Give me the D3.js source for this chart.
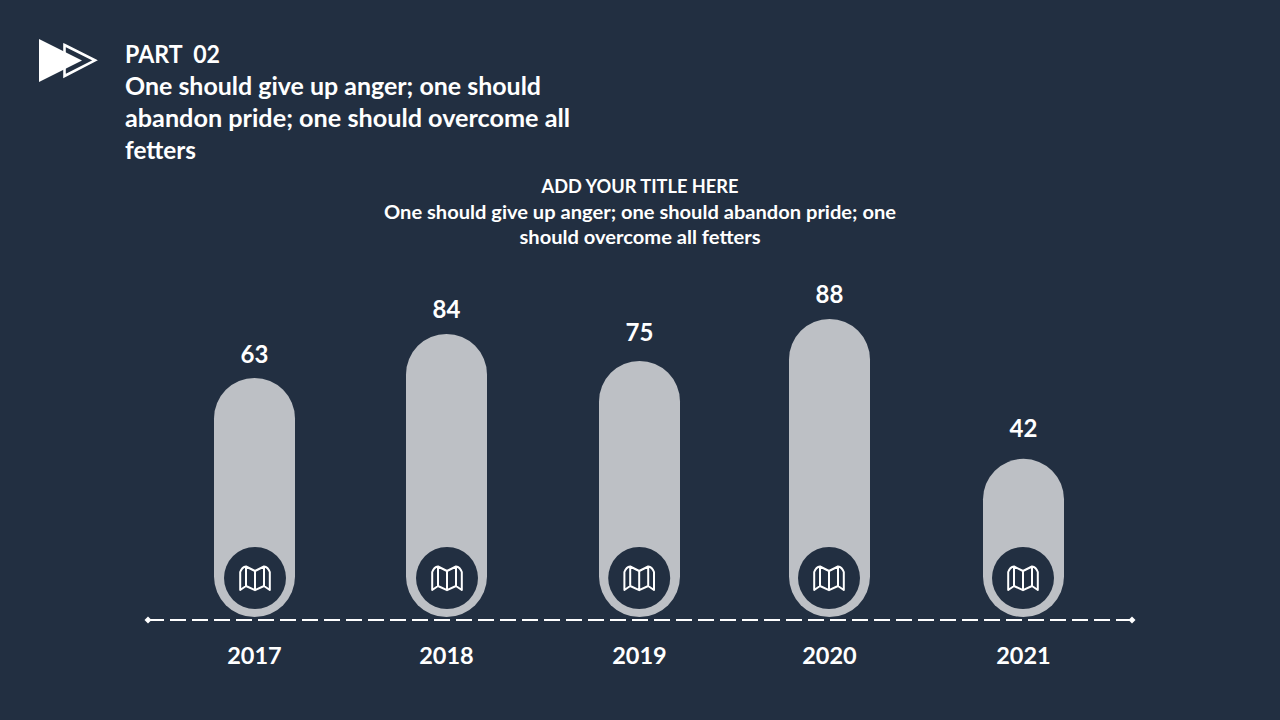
<!DOCTYPE html>
<html><head><meta charset="utf-8">
<script src="https://cdn.jsdelivr.net/npm/d3@7/dist/d3.min.js"></script>
<style>html,body{margin:0;padding:0;background:#222F41}svg{display:block}text{font-family:Lato,"Open Sans",sans-serif;font-weight:700;fill:#fff}</style>
</head><body><svg id="c" width="1280" height="720"></svg>
<script>
const years=["2017","2018","2019","2020","2021"];
const valueLabels=["63","84","75","88","42"];
const barHeights=[70.6,83.6,75.6,88,46.7];
const labelLevels=[75.0,88.3,81.5,92.7,53.2];
const headingLines=["PART  02","One should give up anger; one should","abandon pride; one should overcome all","fetters"];
const subLines=["ADD YOUR TITLE HERE","One should give up anger; one should abandon pride; one","should overcome all fetters"];
const svg=d3.select("#c");
const bg="#222F41",bar="#BDC0C5";
const xc={"2017":254.5,"2018":446.5,"2019":639.5,"2020":829.5,"2021":1023.5};
const discX={"2017":255,"2018":447,"2019":639.2,"2020":829,"2021":1023};
const y=d3.scaleLinear().domain([0,88]).range([617,319]);
const bw=81;
// header icon
svg.append("path").attr("d","M64.5 45L95 60.3L64.5 76Z").attr("fill","none").attr("stroke","#fff").attr("stroke-width",2.6);
svg.append("path").attr("d","M39 39L82 60.5L39 82Z").attr("fill","#fff");
function fit(t,w){const n=t.node();n.setAttribute("textLength",w);n.setAttribute("lengthAdjust","spacingAndGlyphs");}
const headW=[95,416,445,71];
svg.selectAll(".h").data(headingLines).join("text").attr("class","h")
 .attr("x",125).attr("y",(d,i)=>63+i*32).attr("font-size",25).attr("xml:space","preserve").style("white-space","pre").text(d=>d)
 .each(function(d,i){fit(d3.select(this),headW[i]);});
const subW=[197,512,241];
svg.selectAll(".s").data(subLines).join("text").attr("class","s")
 .attr("x",640).attr("y",(d,i)=>[193,219,244][i]).attr("text-anchor","middle").attr("font-size",19).text(d=>d)
 .each(function(d,i){fit(d3.select(this),subW[i]);});
// bars
svg.selectAll(".b").data(years).join("rect").attr("class","b")
 .attr("x",d=>xc[d]-bw/2).attr("width",bw).attr("rx",bw/2).attr("ry",bw/2)
 .attr("y",(d,i)=>y(barHeights[i])).attr("height",(d,i)=>617-y(barHeights[i])).attr("fill",bar);
// value labels
svg.selectAll(".v").data(years).join("text").attr("class","v")
 .attr("x",d=>xc[d]).attr("y",(d,i)=>y(labelLevels[i])).attr("text-anchor","middle").attr("font-size",24).text((d,i)=>valueLabels[i]);
// icon discs
const g=svg.selectAll(".i").data(years).join("g").attr("class","i").attr("transform",d=>`translate(${discX[d]},578)`);
g.append("circle").attr("r",31).attr("fill",bg);
g.append("path").attr("fill","none").attr("stroke","#fff").attr("stroke-width",2).attr("stroke-linejoin","round")
 .attr("d","M-14.8 -6Q-13 -11 -9 -11.5L0 -7L9 -11.5Q13 -11 14.8 -6V12L9 8L0 12.2L-9 8L-14.8 12Z M-9 -11.5V8 M0 -7V12.2 M9 -11.5V8");
// baseline
svg.append("line").attr("x1",148).attr("x2",1132).attr("y1",620).attr("y2",620).attr("stroke","#fff").attr("stroke-width",2).attr("stroke-dasharray","16 6");
[148,1132].forEach(px=>svg.append("path").attr("d",`M${px-3.5} 620L${px} 616.5L${px+3.5} 620L${px} 623.5Z`).attr("fill","#fff"));
// year labels
svg.selectAll(".y").data(years).join("text").attr("class","y")
 .attr("x",d=>xc[d]).attr("y",664).attr("text-anchor","middle").attr("font-size",23.5).text(d=>d);
</script></body></html>
